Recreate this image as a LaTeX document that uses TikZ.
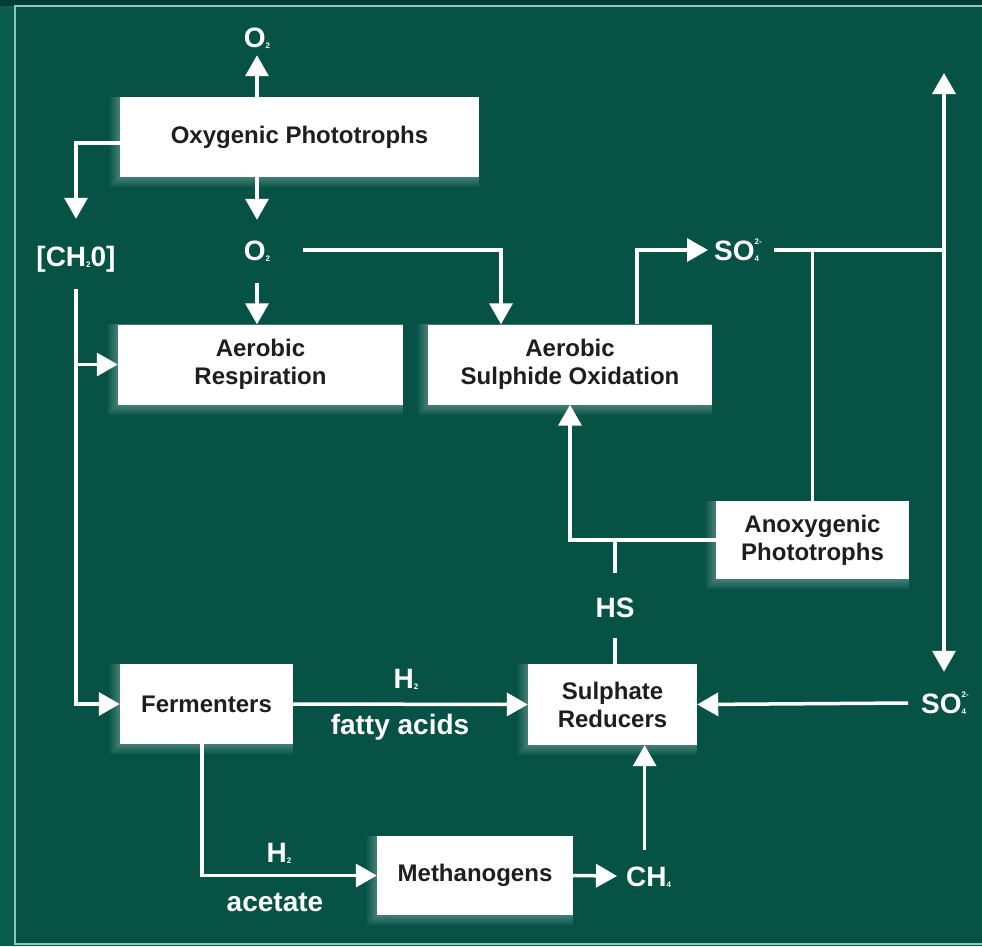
\documentclass[tikz,border=0pt]{standalone}
\usepackage{fontspec}
\setmainfont{Liberation Sans}
\usetikzlibrary{arrows.meta,backgrounds}
\definecolor{bgmain}{RGB}{6,83,69}
\definecolor{bgouter}{RGB}{10,92,78}
\definecolor{bgtop}{RGB}{3,60,50}
\definecolor{frameline}{RGB}{140,200,185}
\definecolor{boxtext}{RGB}{30,30,30}
\newcommand\chemsub[1]{\raisebox{-0.1ex}{\fontsize{8}{8}\selectfont #1}}
\newcommand\chemss[2]{\makebox[0pt][l]{\raisebox{1.05ex}{\fontsize{8}{8}\selectfont #1}}\makebox[7pt][l]{\raisebox{-0.1ex}{\fontsize{8}{8}\selectfont #2}}}
\newcommand\glowof[1]{%
  \foreach \d in {2,4,6,8,10}{%
    \fill[white,opacity=0.055] ([xshift=-\d pt]#1.north west) rectangle ([yshift=-\d pt]#1.south east);}}
\tikzset{
  procbox/.style={fill=white,text=boxtext,font=\fontsize{24}{28}\selectfont\bfseries,
    align=center,inner sep=0pt},
  lbl/.style={text=white,font=\fontsize{28}{30}\selectfont\bfseries,inner sep=0pt,
    text height=20pt,text depth=0pt},
  conn/.style={draw=white,line width=3.5pt},
  arr/.style={conn,-{Triangle[length=21pt,width=23pt]}},
  arrboth/.style={conn,{Triangle[length=21pt,width=23pt]}-{Triangle[length=21pt,width=23pt]}}
}
\begin{document}
\begin{tikzpicture}[x=1pt,y=-1pt]
  \useasboundingbox (0,0) rectangle (982,946);

  % process boxes
  \node[procbox,minimum width=359pt,minimum height=80pt] (oxy) at (299.5,137) {Oxygenic Phototrophs};
  \node[procbox,minimum width=285pt,minimum height=80pt] (aer) at (260.5,364.5) {Aerobic\\Respiration};
  \node[procbox,minimum width=284pt,minimum height=80pt] (sox) at (570,364.5) {Aerobic\\Sulphide Oxidation};
  \node[procbox,minimum width=193pt,minimum height=78pt] (anox) at (812.5,540) {Anoxygenic\\Phototrophs};
  \node[procbox,minimum width=169pt,minimum height=81pt] (srd) at (612.5,704.5) {Sulphate\\Reducers};
  \node[procbox,minimum width=173pt,minimum height=80pt] (ferm) at (206.5,704) {Fermenters};
  \node[procbox,minimum width=196pt,minimum height=79pt] (meth) at (475,875.5) {Methanogens};

  % background and glow
  \begin{pgfonlayer}{background}
    \fill[bgouter] (0,0) rectangle (982,946);
    \fill[bgtop] (0,0) rectangle (982,6);
    \fill[bgmain] (15,6) rectangle (990,944);
    \draw[frameline,line width=1.5pt] (990,6) -- (15,6) -- (15,944) -- (990,944);
    \glowof{oxy}\glowof{aer}\glowof{sox}\glowof{anox}\glowof{srd}\glowof{ferm}\glowof{meth}
  \end{pgfonlayer}

  % labels
  \node[lbl] (o2top) at (257,37) {O\chemsub{2}};
  \node[lbl] (o2mid) at (257,250) {O\chemsub{2}};
  \node[lbl] (ch2o) at (76,256) {[CH\chemsub{2}0]};
  \node[lbl,anchor=west] (so4top) at (714,250) {SO\chemss{2-}{4}};
  \node[lbl,anchor=west] (so4bot) at (921,703) {SO\chemss{2-}{4}};
  \node[lbl] (hs) at (615,607) {HS};
  \node[lbl,anchor=west] (ch4) at (626,876) {CH\chemsub{4}};
  \node[lbl] (h2a) at (406,678) {H\chemsub{2}};
  \node[lbl] (fatty) at (400,724) {fatty acids};
  \node[lbl] (h2b) at (279,852) {H\chemsub{2}};
  \node[lbl] (acet) at (275,901) {acetate};
  \coordinate (vtop) at (944,73);

  % connectors
  \draw[arr] (oxy.north -| o2top) -- ([yshift=-8pt]o2top.south);
  \draw[arr] (oxy.south -| o2mid) -- ([yshift=20pt]o2mid.north);
  \draw[arr] ([yshift=-6pt]oxy.west) -| ([yshift=27pt]ch2o.north);
  \draw[arr] ([yshift=-23pt]o2mid.south) -- (aer.north -| o2mid);
  \draw[arr] ([xshift=33pt]o2mid.east) -| ([xshift=-69pt]sox.north);
  \draw[arr] ([yshift=-23pt]ch2o.south) |- (ferm.west);
  \draw[arr] (ch2o |- aer.west) -- (aer.west);
  \draw[arr] ([xshift=67pt]sox.north) |- ([xshift=-6pt]so4top.west);
  \draw[conn] ([xshift=12pt]so4top.east) -- (vtop |- so4top.east);
  \draw[arrboth] (vtop) -- ([yshift=21pt]vtop |- so4bot.north);
  \draw[conn] (anox.north) -- (anox.north |- so4top.east);
  \draw[arr] (anox.west) -| (sox.south);
  \draw[conn] ([yshift=24pt]hs.north) -- (hs |- anox.west);
  \draw[conn] ([yshift=-21pt]hs.south) -- (hs |- srd.north);
  \draw[arr] ([xshift=-13pt]so4bot.west) -- (srd.east);
  \draw[arr] (ferm.east) -- (srd.west);
  \draw[arr] ([xshift=-4.5pt]ferm.south) |- (meth.west);
  \draw[arr] (meth.east) -- ([xshift=-9pt]ch4.west);
  \draw[arr] ([xshift=-4pt,yshift=16pt]ch4.north) -- ([xshift=-4pt]ch4.north |- srd.south);
\end{tikzpicture}
\end{document}
